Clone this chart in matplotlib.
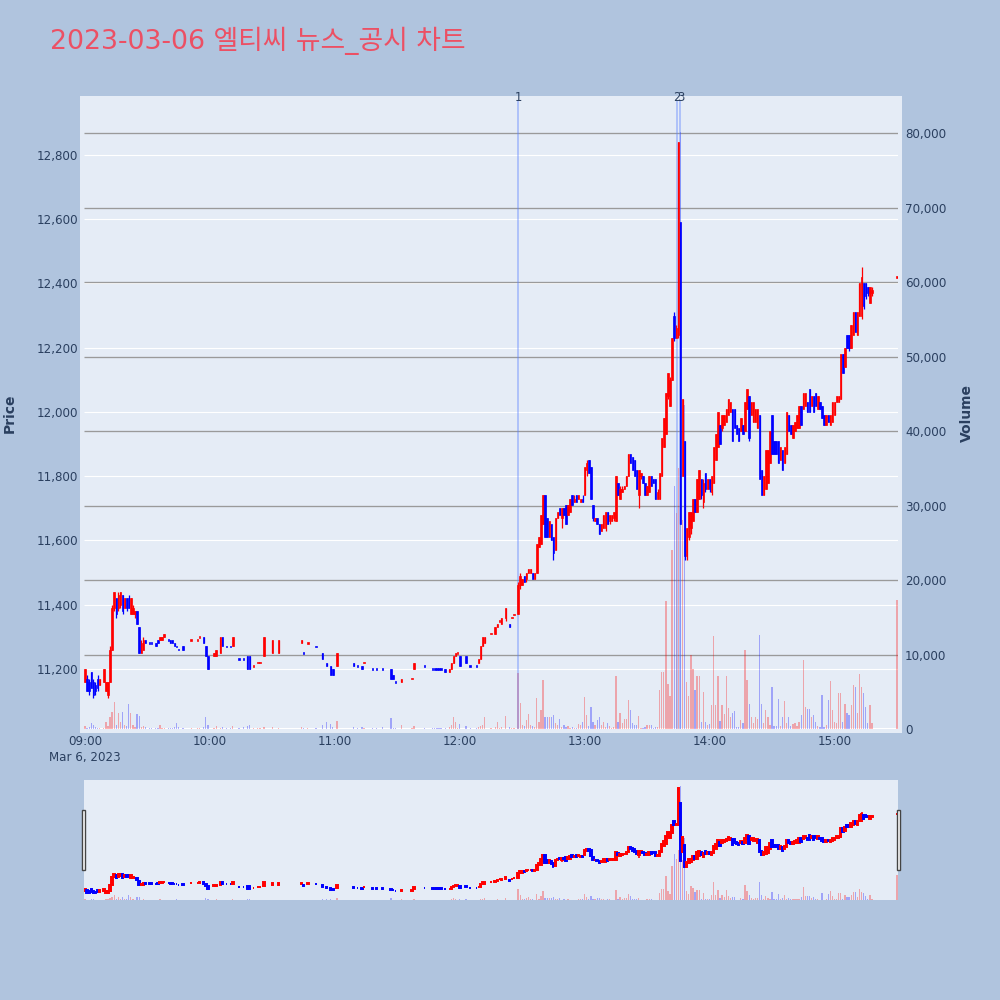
import matplotlib
matplotlib.use("Agg")
import matplotlib.pyplot as plt
from matplotlib.patches import Rectangle
from matplotlib.transforms import blended_transform_factory, Affine2D
from matplotlib.colors import to_rgba

plt.rcParams['font.family'] = ['DejaVu Sans', 'Noto Sans CJK KR']

TITLE = "2023-03-06 엘티씨 뉴스_공시 차트"
DATE_LABEL = "Mar 6, 2023"

# ---------------- data (minutes after 09:00) ----------------
minute_am = [0, 1, 2, 3, 4, 5, 6, 7, 9, 10,
             11, 12, 13, 14, 15, 16, 17, 18, 19, 20,
             21, 22, 23, 24, 25, 26, 27, 28, 29, 31,
             32, 34, 35, 36, 37, 38, 40, 41, 42, 43,
             44, 45, 47, 51, 54, 55, 57, 58, 59, 62,
             63, 65, 66, 68, 70, 71, 74, 76, 78, 79,
             81, 83, 84, 86, 90, 93]
open_am = [11160, 11170, 11160, 11190, 11160, 11150, 11170, 11150, 11160, 11130,
           11120, 11160, 11260, 11390, 11420, 11390, 11400, 11430, 11390, 11420,
           11420, 11370, 11370, 11370, 11380, 11330, 11250, 11260, 11290, 11280,
           11280, 11280, 11290, 11290, 11290, 11300, 11290, 11290, 11290, 11280,
           11270, 11260, 11270, 11290, 11290, 11300, 11300, 11270, 11240, 11240,
           11240, 11250, 11300, 11270, 11270, 11270, 11230, 11230, 11240, 11240,
           11210, 11220, 11220, 11240, 11250, 11250]
high_am = [11200, 11180, 11170, 11190, 11170, 11160, 11180, 11170, 11200, 11160,
           11160, 11270, 11400, 11440, 11420, 11440, 11440, 11430, 11420, 11420,
           11430, 11420, 11400, 11380, 11380, 11330, 11290, 11300, 11290, 11280,
           11280, 11280, 11290, 11300, 11300, 11310, 11290, 11290, 11290, 11280,
           11270, 11260, 11270, 11290, 11290, 11300, 11300, 11270, 11240, 11250,
           11260, 11300, 11300, 11270, 11270, 11300, 11230, 11230, 11240, 11240,
           11210, 11220, 11220, 11300, 11290, 11290]
low_am = [11160, 11130, 11120, 11140, 11110, 11120, 11130, 11150, 11160, 11130,
          11110, 11160, 11260, 11380, 11360, 11380, 11390, 11370, 11390, 11380,
          11390, 11370, 11370, 11360, 11340, 11250, 11250, 11260, 11280, 11280,
          11280, 11270, 11280, 11290, 11290, 11300, 11290, 11280, 11280, 11270,
          11270, 11260, 11260, 11290, 11290, 11300, 11280, 11240, 11200, 11240,
          11240, 11250, 11270, 11270, 11270, 11270, 11230, 11230, 11200, 11200,
          11210, 11220, 11220, 11240, 11250, 11250]
close_am = [11200, 11130, 11130, 11140, 11120, 11130, 11140, 11170, 11200, 11160,
            11160, 11260, 11390, 11440, 11370, 11430, 11440, 11380, 11420, 11390,
            11390, 11420, 11390, 11380, 11340, 11250, 11280, 11290, 11280, 11280,
            11280, 11270, 11280, 11300, 11300, 11310, 11290, 11280, 11280, 11270,
            11270, 11260, 11260, 11290, 11290, 11300, 11280, 11240, 11200, 11250,
            11260, 11300, 11270, 11270, 11270, 11300, 11230, 11230, 11200, 11200,
            11210, 11220, 11220, 11300, 11290, 11290]
volume_am = [400, 200, 300, 800, 500, 300, 200, 150, 200, 900,
             400, 1600, 2300, 3600, 600, 2100, 900, 2300, 500, 400,
             3400, 2200, 600, 300, 2000, 1800, 300, 400, 300, 100,
             100, 200, 150, 500, 150, 200, 100, 100, 100, 300,
             800, 300, 200, 100, 100, 100, 300, 1650, 600, 100,
             400, 200, 300, 100, 100, 400, 100, 300, 400, 600,
             200, 100, 100, 300, 300, 200]

minute_mid = [104, 105, 107, 111, 114, 116, 118, 119, 121, 129,
              131, 133, 134, 138, 140, 143, 147, 148, 149, 152,
              157, 158, 163, 167, 168, 169, 170, 171, 173, 175,
              176, 177, 178, 179, 180, 183, 185, 188, 189, 190,
              191, 192, 195, 197, 198, 199, 200, 202, 204, 205,
              206]
open_mid = [11280, 11250, 11280, 11270, 11250, 11220, 11210, 11200, 11210, 11220,
            11210, 11210, 11220, 11200, 11200, 11200, 11200, 11180, 11160, 11160,
            11170, 11200, 11210, 11200, 11200, 11200, 11200, 11200, 11200, 11190,
            11200, 11220, 11240, 11250, 11240, 11240, 11210, 11210, 11220, 11230,
            11270, 11280, 11310, 11310, 11330, 11350, 11340, 11360, 11340, 11360,
            11370]
high_mid = [11290, 11250, 11280, 11270, 11250, 11220, 11210, 11200, 11250, 11220,
            11210, 11210, 11220, 11200, 11200, 11200, 11200, 11180, 11160, 11170,
            11170, 11220, 11210, 11200, 11200, 11200, 11200, 11200, 11200, 11200,
            11220, 11240, 11250, 11250, 11240, 11240, 11210, 11210, 11230, 11270,
            11300, 11300, 11310, 11330, 11340, 11350, 11360, 11390, 11340, 11360,
            11370]
low_mid = [11280, 11250, 11280, 11270, 11230, 11210, 11180, 11180, 11210, 11210,
           11210, 11200, 11220, 11200, 11200, 11200, 11170, 11170, 11160, 11160,
           11170, 11200, 11210, 11200, 11200, 11200, 11200, 11200, 11190, 11190,
           11200, 11220, 11240, 11250, 11210, 11220, 11210, 11210, 11220, 11230,
           11270, 11280, 11310, 11310, 11330, 11350, 11340, 11350, 11330, 11360,
           11370]
close_mid = [11290, 11250, 11280, 11270, 11230, 11210, 11180, 11180, 11250, 11210,
             11210, 11200, 11220, 11200, 11200, 11200, 11170, 11170, 11160, 11170,
             11170, 11220, 11210, 11200, 11200, 11200, 11200, 11200, 11190, 11200,
             11220, 11240, 11250, 11250, 11210, 11220, 11210, 11210, 11230, 11270,
             11300, 11300, 11310, 11330, 11340, 11350, 11360, 11390, 11330, 11360,
             11370]
volume_mid = [300, 100, 100, 100, 540, 980, 700, 300, 1100, 300,
              100, 300, 100, 100, 100, 300, 1430, 200, 100, 500,
              100, 400, 100, 100, 100, 100, 100, 100, 200, 300,
              500, 1650, 900, 200, 700, 400, 200, 200, 300, 400,
              600, 1650, 100, 300, 1000, 200, 300, 1750, 300, 100,
              200]

minute_pm1 = [208, 209, 210, 211, 212, 213, 214, 215, 216, 217,
              218, 219, 220, 221, 222, 223, 224, 225, 226, 227,
              228, 229, 230, 231, 232, 233, 234, 235, 236, 237,
              238, 239, 240, 241, 242, 243, 244, 245, 246, 247,
              248, 249, 250, 251, 252, 253, 254, 255, 256, 257,
              258, 259, 260, 261, 262, 263, 264, 265, 266, 267,
              268, 269, 270, 271, 272, 273, 274, 275, 276, 277,
              278, 279, 280, 281, 282, 283, 284, 285, 286, 287,
              288, 289, 290, 291, 292, 293, 294, 295]
open_pm1 = [11370, 11460, 11460, 11490, 11480, 11500, 11500, 11500, 11480, 11500,
            11580, 11590, 11650, 11740, 11670, 11610, 11650, 11610, 11570, 11670,
            11700, 11670, 11700, 11710, 11680, 11690, 11740, 11720, 11740, 11730,
            11720, 11730, 11740, 11820, 11850, 11830, 11710, 11660, 11670, 11650,
            11630, 11640, 11640, 11690, 11660, 11660, 11670, 11660, 11780, 11730,
            11750, 11760, 11770, 11800, 11870, 11860, 11850, 11820, 11740, 11800,
            11800, 11780, 11740, 11750, 11800, 11790, 11790, 11730, 11730, 11800,
            11890, 11930, 12050, 12020, 12100, 12300, 12230, 12240, 12590, 11800,
            11910, 11550, 11610, 11640, 11660, 11730, 11690, 11730]
high_pm1 = [11470, 11500, 11480, 11490, 11500, 11510, 11510, 11500, 11500, 11590,
            11610, 11680, 11740, 11740, 11670, 11660, 11650, 11610, 11670, 11690,
            11700, 11700, 11700, 11710, 11710, 11730, 11740, 11740, 11740, 11740,
            11730, 11740, 11830, 11850, 11850, 11830, 11710, 11670, 11670, 11650,
            11650, 11680, 11690, 11690, 11680, 11680, 11690, 11800, 11780, 11770,
            11770, 11770, 11800, 11870, 11870, 11860, 11850, 11820, 11820, 11810,
            11800, 11780, 11770, 11800, 11800, 11790, 11790, 11760, 11810, 11920,
            11980, 12060, 12120, 12110, 12230, 12310, 12270, 12840, 12590, 12040,
            11910, 11640, 11690, 11690, 11730, 11730, 11790, 11820]
low_pm1 = [11370, 11450, 11460, 11470, 11470, 11500, 11500, 11480, 11480, 11500,
           11580, 11590, 11650, 11610, 11610, 11610, 11600, 11540, 11570, 11670,
           11680, 11640, 11680, 11650, 11680, 11690, 11710, 11720, 11720, 11730,
           11720, 11720, 11740, 11800, 11810, 11730, 11660, 11660, 11650, 11620,
           11630, 11640, 11630, 11650, 11650, 11660, 11660, 11660, 11740, 11730,
           11750, 11760, 11770, 11800, 11840, 11820, 11800, 11760, 11700, 11790,
           11780, 11740, 11740, 11750, 11770, 11780, 11730, 11730, 11730, 11800,
           11890, 11930, 12040, 12020, 12100, 12220, 12230, 12230, 11650, 11800,
           11540, 11540, 11600, 11620, 11660, 11690, 11690, 11730]
close_pm1 = [11460, 11490, 11480, 11470, 11500, 11510, 11510, 11480, 11500, 11590,
             11610, 11680, 11740, 11610, 11610, 11660, 11600, 11560, 11670, 11690,
             11680, 11700, 11680, 11650, 11710, 11730, 11710, 11730, 11720, 11740,
             11730, 11720, 11830, 11840, 11810, 11730, 11670, 11670, 11650, 11620,
             11650, 11680, 11690, 11650, 11680, 11680, 11690, 11800, 11740, 11760,
             11760, 11770, 11800, 11870, 11840, 11820, 11800, 11760, 11820, 11810,
             11780, 11740, 11770, 11800, 11770, 11780, 11730, 11750, 11810, 11920,
             11980, 12060, 12120, 12100, 12230, 12230, 12260, 12840, 11650, 12040,
             11550, 11640, 11690, 11690, 11730, 11690, 11790, 11820]
volume_pm1 = [7500, 3450, 600, 400, 1200, 2000, 500, 400, 300, 4150,
              900, 2600, 6600, 1650, 1650, 1650, 1650, 1900, 800, 500,
              1400, 300, 500, 300, 400, 200, 300, 200, 100, 700,
              500, 900, 4350, 1900, 400, 3000, 1000, 500, 1250, 1650,
              600, 1000, 300, 850, 400, 200, 300, 7150, 1000, 2200,
              800, 1400, 1400, 3900, 2500, 800, 600, 500, 1700, 200,
              200, 300, 500, 600, 500, 200, 300, 300, 5200, 7700,
              7700, 17200, 6000, 4400, 24000, 32600, 29000, 35000, 80200, 28000,
              43500, 6300, 4400, 9900, 8100, 5300, 7100, 7100]

minute_pm2 = [296, 297, 298, 299, 300, 301, 302, 303, 304, 305,
              306, 307, 308, 309, 310, 311, 312, 313, 314, 315,
              316, 317, 318, 319, 320, 321, 322, 323, 324, 325,
              326, 327, 328, 329, 330, 331, 332, 333, 334, 335,
              336, 337, 338, 339, 340, 341, 342, 343, 344, 345,
              346, 347, 348, 349, 350, 351, 352, 353, 354, 355,
              356, 357, 358, 359, 360, 361, 362, 363, 364, 365,
              366, 367, 368, 369, 370, 371, 372, 373, 374, 375,
              376, 377, 378, 390]
open_pm2 = [11790, 11720, 11810, 11760, 11790, 11750, 11780, 11850, 11890, 11960,
            11950, 11960, 11970, 11990, 12000, 12010, 12010, 11960, 11950, 11940,
            11960, 11940, 12010, 12050, 11990, 11970, 11970, 11950, 11990, 11820,
            11740, 11760, 11780, 11840, 11990, 11910, 11910, 11910, 11850, 11880,
            11840, 11870, 11990, 11960, 11920, 11940, 11950, 11950, 12020, 12010,
            12020, 12030, 12070, 12020, 12050, 12060, 12010, 12030, 12020, 11990,
            11960, 11990, 11960, 11970, 11990, 12030, 12030, 12040, 12180, 12140,
            12240, 12240, 12200, 12240, 12310, 12240, 12300, 12300, 12400, 12400,
            12390, 12340, 12370, 12420]
high_pm2 = [11790, 11790, 11810, 11790, 11790, 11800, 11890, 11930, 12000, 11960,
            11990, 11990, 12010, 12040, 12030, 12010, 12010, 11960, 11950, 11980,
            11960, 12030, 12070, 12050, 12030, 12030, 12010, 12010, 11990, 11820,
            11800, 11880, 11880, 11940, 11990, 11910, 11910, 11910, 11890, 11880,
            11890, 12000, 11990, 11960, 11960, 11970, 11990, 12020, 12020, 12060,
            12060, 12030, 12070, 12050, 12050, 12060, 12050, 12030, 12020, 11990,
            11990, 11990, 11990, 12030, 12030, 12050, 12050, 12180, 12180, 12200,
            12240, 12240, 12270, 12310, 12310, 12310, 12400, 12450, 12400, 12400,
            12390, 12390, 12390, 12420]
low_pm2 = [11730, 11700, 11750, 11760, 11750, 11740, 11780, 11850, 11890, 11900,
           11940, 11960, 11970, 11990, 12000, 11910, 11950, 11930, 11910, 11940,
           11930, 11940, 12010, 11910, 11990, 11970, 11970, 11950, 11790, 11740,
           11740, 11760, 11780, 11840, 11870, 11870, 11870, 11840, 11850, 11820,
           11840, 11870, 11940, 11930, 11920, 11940, 11950, 11950, 11960, 12010,
           12020, 12000, 12000, 12020, 12000, 12020, 12010, 12010, 11980, 11960,
           11960, 11970, 11960, 11970, 11990, 12030, 12030, 12040, 12120, 12140,
           12200, 12190, 12200, 12240, 12250, 12240, 12300, 12290, 12320, 12350,
           12360, 12340, 12360, 12420]
close_pm2 = [11740, 11780, 11760, 11790, 11760, 11800, 11890, 11930, 12000, 11900,
             11990, 11990, 12010, 12040, 12030, 11910, 11950, 11930, 11910, 11980,
             11930, 12030, 12070, 11920, 12030, 12030, 12010, 12010, 11790, 11740,
             11800, 11880, 11880, 11940, 11870, 11870, 11870, 11840, 11890, 11820,
             11890, 12000, 11940, 11930, 11960, 11970, 11990, 12020, 11960, 12060,
             12060, 12000, 12000, 12050, 12000, 12020, 12050, 12010, 11980, 11960,
             11990, 11970, 11990, 12030, 12030, 12050, 12050, 12180, 12120, 12200,
             12200, 12200, 12270, 12310, 12250, 12310, 12400, 12420, 12330, 12360,
             12370, 12390, 12380, 12420]
volume_pm2 = [1000, 4900, 1000, 600, 700, 3200, 12500, 3200, 7100, 1100,
              3200, 2000, 7100, 2800, 1600, 2200, 2400, 300, 300, 1200,
              800, 10600, 6600, 3400, 1600, 800, 1600, 1400, 12600, 3400,
              800, 2500, 1600, 500, 5700, 400, 400, 4000, 400, 1600,
              3700, 800, 1600, 400, 700, 800, 400, 1000, 1900, 9300,
              2900, 2700, 2700, 1600, 1900, 1000, 400, 300, 4600, 300,
              500, 3900, 6400, 2600, 1000, 800, 4800, 4800, 1000, 3400,
              2100, 1900, 3200, 5900, 5700, 2100, 7400, 5700, 4800, 3000,
              800, 3200, 800, 17300]

news_times = ["12:28:12", "13:44:12", "13:46:00"]
news_labels = ["1", "2", "3"]
time_tick_labels = ["09:00", "10:00", "11:00", "12:00", "13:00", "14:00", "15:00"]
price_ticks = [11200, 11400, 11600, 11800, 12000, 12200, 12400, 12600, 12800]
volume_ticks = [0, 10000, 20000, 30000, 40000, 50000, 60000, 70000, 80000]

# ---------------- assemble ----------------
minutes = minute_am + minute_mid + minute_pm1 + minute_pm2
opens = open_am + open_mid + open_pm1 + open_pm2
highs = high_am + high_mid + high_pm1 + high_pm2
lows = low_am + low_mid + low_pm1 + low_pm2
closes = close_am + close_mid + close_pm1 + close_pm2
volumes = volume_am + volume_mid + volume_pm1 + volume_pm2
n = len(minutes)
assert all(len(a) == n for a in (opens, highs, lows, closes, volumes))


def to_minutes(t):
    parts = [int(p) for p in t.split(":")]
    s = parts[2] if len(parts) > 2 else 0
    return (parts[0] - 9) * 60 + parts[1] + s / 60.0


PRICE_LIM = (11013, 12971)
VOL_MAX = 84430
X_LIM = (-0.5, 390.5)

FIG_BG = "#b0c4de"
PLOT_BG = "#e5ecf6"
FONT_C = "#2a3f5f"
UP = "#ff0000"
DOWN = "#0000ff"

# plotly-style direction rule
colors = []
prev_c, prev_up = None, False
for o, c in zip(opens, closes):
    if c > o:
        up = True
    elif c < o:
        up = False
    elif prev_c is None:
        up = False
    elif c > prev_c:
        up = True
    elif c < prev_c:
        up = False
    else:
        up = prev_up
    colors.append(UP if up else DOWN)
    prev_c, prev_up = c, up
vol_colors = [to_rgba(c, 0.3) for c in colors]

MIN_H = 5
bottoms, heights = [], []
for o, c in zip(opens, closes):
    h = abs(c - o)
    if h < MIN_H:
        bottoms.append(min(o, c) - (MIN_H - h) / 2)
        heights.append(MIN_H)
    else:
        bottoms.append(min(o, c))
        heights.append(h)

fig = plt.figure(figsize=(10, 10), dpi=100, facecolor=FIG_BG)


def px_rect(x0, y0, x1, y1):
    return [x0 / 1000, 1 - y1 / 1000, (x1 - x0) / 1000, (y1 - y0) / 1000]


# main plot background (slightly larger than the grid area)
fig.add_artist(Rectangle((0.080, 1 - 0.733), 0.822, 0.637, transform=fig.transFigure,
                         facecolor=PLOT_BG, edgecolor='none', zorder=-5))

ax = fig.add_axes(px_rect(84, 100, 898, 729))
ax.set_facecolor(PLOT_BG)
ax.set_xlim(*X_LIM)
ax.set_ylim(*PRICE_LIM)
for s in ax.spines.values():
    s.set_visible(False)

vol_tf = blended_transform_factory(ax.transData, Affine2D().scale(1.0, 1.0 / VOL_MAX) + ax.transAxes)

# grids
for p in price_ticks:
    ax.plot(X_LIM, [p, p], color='white', lw=0.8, zorder=0.5, solid_capstyle='butt')
for v in volume_ticks[1:]:
    ax.plot(X_LIM, [v, v], color='#9a9a9a', lw=0.95, zorder=0.6, transform=vol_tf,
            solid_capstyle='butt')
ax.plot(X_LIM, [0, 0], color='white', lw=1.5, zorder=0.6, transform=vol_tf)

# volume bars
ax.bar(minutes, volumes, width=0.62, color=vol_colors, linewidth=0, zorder=1, transform=vol_tf)

# news lines
lab_tf = blended_transform_factory(ax.transData, ax.transAxes)
for t, lab in zip(news_times, news_labels):
    xm = to_minutes(t)
    ax.axvline(xm, color=(0.35, 0.5, 1.0, 0.42), lw=1.3, zorder=1.5)
    ax.text(xm, 1.0037, lab, transform=lab_tf, ha='center', va='center',
            fontsize=8.3, color=FONT_C, clip_on=False)

# candles
ax.vlines(minutes, lows, highs, colors=colors, lw=0.9, zorder=3)
ax.bar(minutes, heights, bottom=bottoms, width=0.7, color=colors, edgecolor=colors,
       linewidth=0.5, zorder=3.1)

# ticks
ax.set_yticks(price_ticks)
ax.set_yticklabels([f"{p:,}" for p in price_ticks])
ax.set_xticks([to_minutes(t) for t in time_tick_labels])
ax.set_xticklabels(time_tick_labels)
ax.tick_params(axis='both', length=0, labelsize=8.6, labelcolor=FONT_C)
ax.tick_params(axis='y', pad=4.3)
ax.tick_params(axis='x', pad=4.0)

ax_r = ax.twinx()
ax_r.set_ylim(0, VOL_MAX)
ax_r.set_yticks(volume_ticks)
ax_r.set_yticklabels([f"{v:,}" for v in volume_ticks])
ax_r.tick_params(axis='y', length=0, labelsize=8.6, labelcolor=FONT_C, pad=5.0)
for s in ax_r.spines.values():
    s.set_visible(False)

fig.text(85 / 1000, 1 - 758 / 1000, DATE_LABEL, ha='center', va='center', fontsize=8.6, color=FONT_C)
fig.text(10 / 1000, 1 - 413 / 1000, "Price", rotation=90, ha='center', va='center',
         fontsize=10, fontweight='bold', color=FONT_C)
fig.text(967 / 1000, 1 - 413 / 1000, "Volume", rotation=90, ha='center', va='center',
         fontsize=10, fontweight='bold', color=FONT_C)
fig.text(50 / 1000, 1 - 41 / 1000, TITLE, ha='left', va='center', fontsize=19.3, color='#ec5064')

# ---------------- range slider ----------------
ax_s = fig.add_axes(px_rect(84, 780, 898, 900))
ax_s.set_facecolor(PLOT_BG)
ax_s.set_xlim(*X_LIM)
ax_s.set_ylim(*PRICE_LIM)
ax_s.set_xticks([])
ax_s.set_yticks([])
for s in ax_s.spines.values():
    s.set_visible(False)
vol_tf_s = blended_transform_factory(ax_s.transData, Affine2D().scale(1.0, 1.0 / VOL_MAX) + ax_s.transAxes)
ax_s.bar(minutes, volumes, width=0.62, color=vol_colors, linewidth=0, zorder=1, transform=vol_tf_s)
ax_s.vlines(minutes, lows, highs, colors=colors, lw=1.2, zorder=3)
ax_s.bar(minutes, heights, bottom=bottoms, width=0.7, color=colors, edgecolor=colors,
         linewidth=1.4, zorder=3.1)

for hx in (81.5, 896.5):
    fig.add_artist(Rectangle((hx / 1000, 1 - 870 / 1000), 3.5 / 1000, 60 / 1000,
                             transform=fig.transFigure, facecolor='white',
                             edgecolor='#444444', linewidth=1.0, zorder=5))

fig.savefig("out.png", dpi=100, facecolor=FIG_BG)
